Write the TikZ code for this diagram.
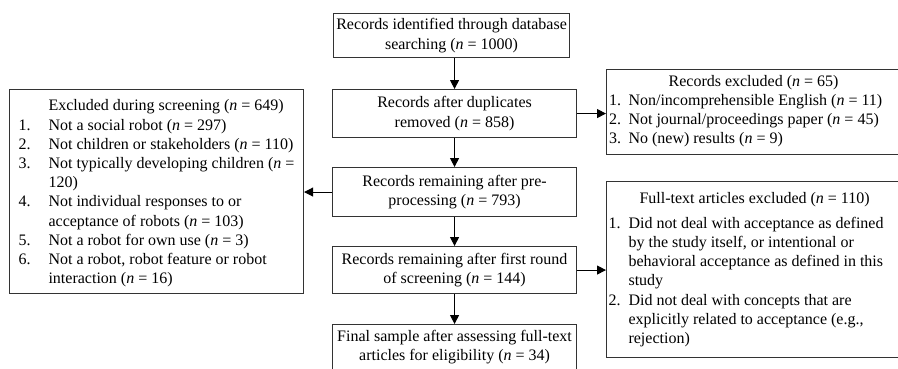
\documentclass[tikz,border=0pt]{standalone}
\usepackage{fontspec}
\setmainfont{Liberation Serif}
\usetikzlibrary{arrows.meta}
\begin{document}
\begin{tikzpicture}[x=1pt,y=-1pt,
  box/.style={draw=black!80, line width=1.1pt, inner sep=0pt, anchor=north west,
    font=\fontsize{16}{19.2}\selectfont},
  mainbox/.style={box, align=center},
  arr/.style={-{Triangle[length=9pt,width=9pt]}, line width=1pt, draw=black},
]
\useasboundingbox (0,0) rectangle (898,368);
% main column
\node[mainbox, minimum width=236pt, minimum height=44pt] (b1) at (333,13)
  {Records identified through database\\ searching (\textit{n} = 1000)};
\node[mainbox, minimum width=244pt, minimum height=48pt] (b2) at (332,89)
  {Records after duplicates\\ removed (\textit{n} = 858)};
\node[mainbox, minimum width=244pt, minimum height=49pt] (b3) at (332,167)
  {Records remaining after pre-\\ processing (\textit{n} = 793)};
\node[mainbox, minimum width=244pt, minimum height=47pt] (b4) at (332,246)
  {Records remaining after first round\\ of screening (\textit{n} = 144)};
\node[mainbox, minimum width=244pt, minimum height=45pt] (b5) at (332,324)
  {Final sample after assessing full-text\\ articles for eligibility (\textit{n} = 34)};
% left box
\node[box, minimum width=294pt, minimum height=204pt] (lb) at (9,89)
  {\makebox[276pt][l]{\begin{tabular}{@{}p{30pt}@{}l@{}}
   & Excluded during screening (\textit{n} = 649)\\
  1. & Not a social robot (\textit{n} = 297)\\
  2. & Not children or stakeholders (\textit{n} = 110)\\
  3. & Not typically developing children (\textit{n} =\\
     & 120)\\
  4. & Not individual responses to or\\
     & acceptance of robots (\textit{n} = 103)\\
  5. & Not a robot for own use (\textit{n} = 3)\\
  6. & Not a robot, robot feature or robot\\
     & interaction (\textit{n} = 16)\\[-4pt]
  \end{tabular}}};
% right top box
\node[box, minimum width=294pt, minimum height=85pt] (rt) at (606,69)
  {\makebox[289pt][l]{\begin{tabular}{@{}p{19.5pt}@{}l@{}}
  \multicolumn{2}{@{}l@{}}{\makebox[289pt][c]{Records excluded (\textit{n} = 65)}}\\
  1. & Non/incomprehensible English (\textit{n} = 11)\\
  2. & Not journal/proceedings paper (\textit{n} = 45)\\
  3. & No (new) results (\textit{n} = 9)\\[2pt]
  \end{tabular}}};
% right bottom box
\node[box, minimum width=294pt, minimum height=176pt] (rb) at (606,181)
  {\makebox[290pt][l]{\begin{tabular}{@{}p{20pt}@{}l@{}}
  \multicolumn{2}{@{}l@{}}{\hspace*{31pt}Full-text articles excluded (\textit{n} = 110)}\\[6pt]
  1. & Did not deal with acceptance as defined\\
     & by the study itself, or intentional or\\
     & behavioral acceptance as defined in this\\
     & study\\
  2. & Did not deal with concepts that are\\
     & explicitly related to acceptance (e.g.,\\
     & rejection)\\[0pt]
  \end{tabular}}};
% connectors
\draw[arr] (b2.north |- b1.south) -- (b2.north);
\draw[arr] (b2.south) -- (b3.north);
\draw[arr] (b3.south) -- (b4.north);
\draw[arr] (b4.south) -- (b5.north);
\draw[arr] (b2.east) -- (rt.west |- b2.east);
\draw[arr] (b3.west) -- (lb.east |- b3.west);
\draw[arr] (b4.east) -- (rb.west |- b4.east);
\end{tikzpicture}
\end{document}
